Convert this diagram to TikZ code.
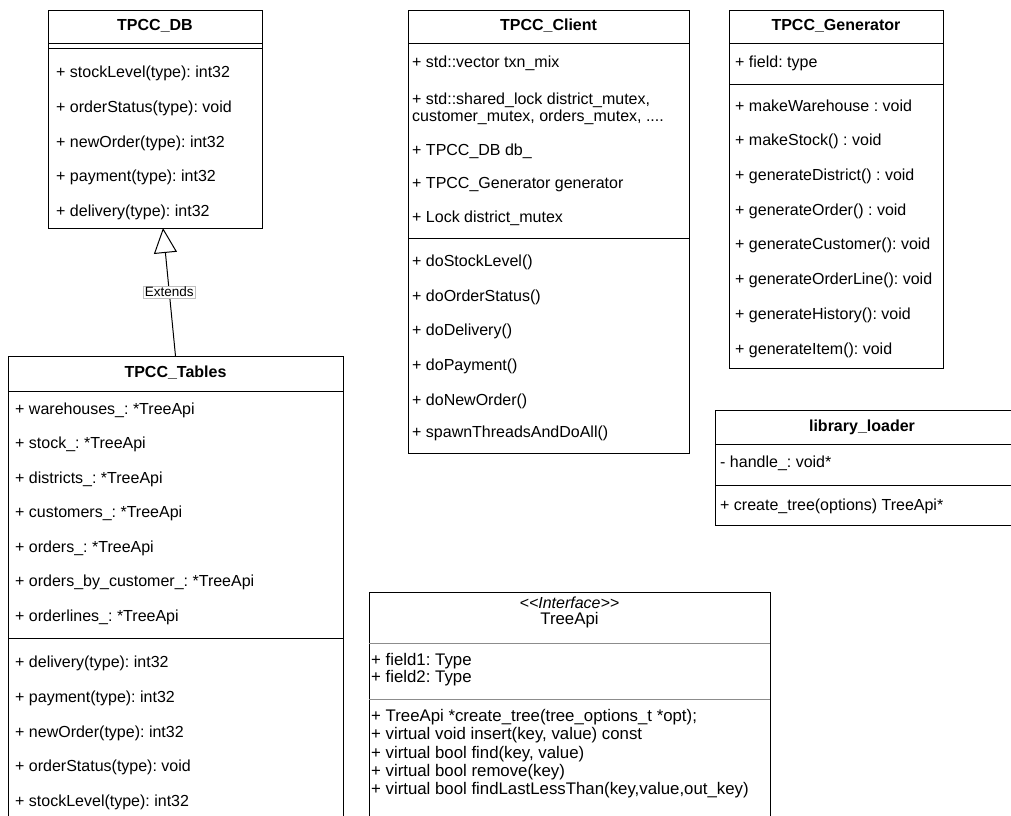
\documentclass[tikz,border=0pt]{standalone}
\usepackage{fontspec}
\setmainfont{Liberation Sans}
\usetikzlibrary{arrows.meta}
\begin{document}
\frenchspacing
\begin{tikzpicture}[x=1pt,y=-1pt,
  frame/.style={draw=black, line width=1pt, inner sep=0pt, outer sep=0pt},
  sepline/.style={draw=black, line width=1pt},
  graysep/.style={draw=black!45, line width=1pt},
  item/.style={anchor=west, inner sep=0pt, font=\fontsize{16}{19}\selectfont},
  titem/.style={anchor=west, inner sep=0pt, font=\fontsize{16.8}{19}\selectfont},
  ttl/.style={inner sep=0pt, font=\bfseries\fontsize{16}{19}\selectfont},
  lbl/.style={draw=black!25, fill=white, inner sep=1.2pt, line width=0.6pt, font=\fontsize{13.5}{16}\selectfont},
]
\useasboundingbox (0,0) rectangle (1011,815);
\clip (0,0) rectangle (1011,815);

% ---------- TPCC_DB ----------
\node[frame, anchor=north west, minimum width=214pt, minimum height=218pt] (db) at (48,10) {};
\node[ttl] (dbt) at (155,26) {TPCC\_DB};
\draw[sepline] (48,43) -- (262,43);
\draw[sepline] (48,48) -- (262,48);
\node[item] (db1) at (56,73)  {+ stockLevel(type): int32};
\node[item] (db2) at (56,108) {+ orderStatus(type): void};
\node[item] (db3) at (56,143) {+ newOrder(type): int32};
\node[item] (db4) at (56,177) {+ payment(type): int32};
\node[item] (db5) at (56,212) {+ delivery(type): int32};
\coordinate (dbin) at (163,228);

% ---------- TPCC_Tables ----------
\node[frame, anchor=north west, minimum width=335pt, minimum height=480pt] (tb) at (8,356) {};
\node[ttl] (tbt) at (175.5,373) {TPCC\_Tables};
\draw[sepline] (8,391) -- (343,391);
\node[item] (tb1) at (15,410)   {+ warehouses\_: *TreeApi};
\node[item] (tb2) at (15,444.5) {+ stock\_: *TreeApi};
\node[item] (tb3) at (15,479)   {+ districts\_: *TreeApi};
\node[item] (tb4) at (15,513.5) {+ customers\_: *TreeApi};
\node[item] (tb5) at (15,548)   {+ orders\_: *TreeApi};
\node[item] (tb6) at (15,582.5) {+ orders\_by\_customer\_: *TreeApi};
\node[item] (tb7) at (15,617)   {+ orderlines\_: *TreeApi};
\draw[sepline] (8,638) -- (343,638);
\node[item] (tb8)  at (15,663)   {+ delivery(type): int32};
\node[item] (tb9)  at (15,698)   {+ payment(type): int32};
\node[item] (tb10) at (15,733)   {+ newOrder(type): int32};
\node[item] (tb11) at (15,767.5) {+ orderStatus(type): void};
\node[item] (tb12) at (15,802)   {+ stockLevel(type): int32};

% ---------- Extends ----------
\draw[line width=1pt, -{Triangle[open, length=25pt, width=23pt, line width=1pt]}]
  (tb.north) -- node[lbl, pos=0.5] (ext) {Extends} (dbin);

% ---------- TPCC_Client ----------
\node[frame, anchor=north west, minimum width=281pt, minimum height=443pt] (cl) at (408,10) {};
\node[ttl] (clt) at (548.5,26) {TPCC\_Client};
\draw[sepline] (408,43) -- (689,43);
\node[item] (cl1) at (412,63)  {+ std::vector txn\_mix};
\node[item] (cl2) at (412,100) {+ std::shared\_lock district\_mutex,};
\node[item] (cl3) at (412,117) {customer\_mutex, orders\_mutex, ....};
\node[item] (cl4) at (412,151) {+ TPCC\_DB db\_};
\node[item] (cl5) at (412,185) {+ TPCC\_Generator generator};
\node[item] (cl6) at (412,218) {+ Lock district\_mutex};
\draw[sepline] (408,238) -- (689,238);
\node[item] (cl7)  at (412,262) {+ doStockLevel()};
\node[item] (cl8)  at (412,297) {+ doOrderStatus()};
\node[item] (cl9)  at (412,331) {+ doDelivery()};
\node[item] (cl10) at (412,366) {+ doPayment()};
\node[item] (cl11) at (412,401) {+ doNewOrder()};
\node[item] (cl12) at (412,433) {+ spawnThreadsAndDoAll()};

% ---------- TPCC_Generator ----------
\node[frame, anchor=north west, minimum width=214pt, minimum height=358pt] (gn) at (729,10) {};
\node[ttl] (gnt) at (836,26) {TPCC\_Generator};
\draw[sepline] (729,43) -- (943,43);
\node[item] (gn1) at (735,63) {+ field: type};
\draw[sepline] (729,84) -- (943,84);
\node[item] (gn2) at (735,106) {+ makeWarehouse : void};
\node[item] (gn3) at (735,141) {+ makeStock() : void};
\node[item] (gn4) at (735,176) {+ generateDistrict() : void};
\node[item] (gn5) at (735,211) {+ generateOrder() : void};
\node[item] (gn6) at (735,245) {+ generateCustomer(): void};
\node[item] (gn7) at (735,280) {+ generateOrderLine(): void};
\node[item] (gn8) at (735,315) {+ generateHistory(): void};
\node[item] (gn9) at (735,350) {+ generateItem(): void};

% ---------- library_loader ----------
\node[frame, anchor=north west, minimum width=305pt, minimum height=115pt] (ll) at (715,410) {};
\node[ttl] (llt) at (862,427) {library\_loader};
\draw[sepline] (715,444) -- (1020,444);
\node[item] (ll1) at (720,463) {- handle\_: void*};
\draw[sepline] (715,485) -- (1020,485);
\node[item] (ll2) at (720,506) {+ create\_tree(options) TreeApi*};

% ---------- TreeApi ----------
\node[frame, anchor=north west, minimum width=401pt, minimum height=250pt] (ta) at (369,592) {};
\node[inner sep=0pt, font=\itshape\fontsize{16}{19}\selectfont] (tas) at (569.5,603) {<\kern0pt<Interface>\kern0pt>};
\node[inner sep=0pt, font=\fontsize{16.8}{19}\selectfont] (tat) at (569.5,620) {TreeApi};
\draw[graysep] (369,643) -- (770,643);
\node[titem] (ta1) at (371,661) {+ field1: Type};
\node[titem] (ta2) at (371,678) {+ field2: Type};
\draw[graysep] (369,699) -- (770,699);
\node[titem] (ta3) at (371,717) {+ TreeApi *create\_tree(tree\_options\_t *opt);};
\node[titem] (ta4) at (371,735) {+ virtual void insert(key, value) const};
\node[titem] (ta5) at (371,754) {+ virtual bool find(key, value)};
\node[titem] (ta6) at (371,772) {+ virtual bool remove(key)};
\node[titem] (ta7) at (371,790) {+ virtual bool findLastLessThan(key,value,out\_key)};
\end{tikzpicture}
\end{document}
